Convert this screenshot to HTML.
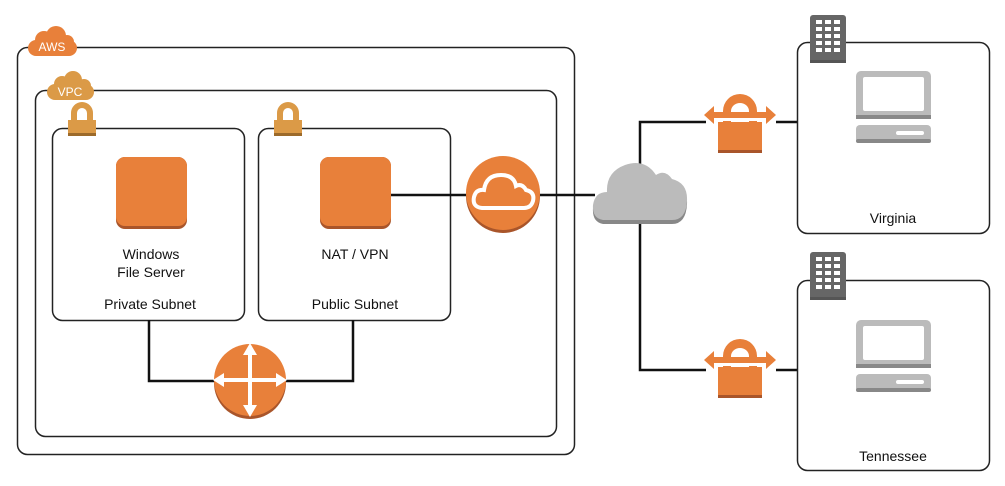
<!DOCTYPE html>
<html><head><meta charset="utf-8"><style>
html,body{margin:0;padding:0;background:#fff;}
svg{display:block;font-family:"Liberation Sans",Arial,sans-serif;}
</style></head><body>
<svg width="1005" height="486" viewBox="0 0 1005 486" xmlns="http://www.w3.org/2000/svg">
<defs>
<g id="lock">
  <path d="M-17,0 V-12 A17,17 0 0 1 17,-12 V0 H9 V-12 A9,8 0 0 0 -9,-12 V0 Z" fill="#E8803A"/>
  <rect x="-22" y="-1" width="44" height="30" fill="#E8803A"/>
  <rect x="-22" y="27" width="44" height="3" fill="#A9552A"/>
  <rect x="-30" y="-11" width="60" height="6" fill="#E8803A"/>
  <path d="M-36,-8 L-26,-17 L-26,1 Z" fill="#E8803A"/>
  <path d="M36,-8 L26,-17 L26,1 Z" fill="#E8803A"/>
  <rect x="-22" y="-5" width="44" height="3" fill="#fff"/>
</g>
<g id="bld">
  <rect x="0" y="0" width="36" height="48" rx="3" fill="#666"/>
  <rect x="0" y="45" width="36" height="3" fill="#555"/>
  <g fill="#fff">
    <rect x="6" y="5" width="6" height="4"/><rect x="15" y="5" width="6" height="4"/><rect x="24" y="5" width="6" height="4"/>
    <rect x="6" y="12" width="6" height="4"/><rect x="15" y="12" width="6" height="4"/><rect x="24" y="12" width="6" height="4"/>
    <rect x="6" y="19" width="6" height="4"/><rect x="15" y="19" width="6" height="4"/><rect x="24" y="19" width="6" height="4"/>
    <rect x="6" y="26" width="6" height="4"/><rect x="15" y="26" width="6" height="4"/><rect x="24" y="26" width="6" height="4"/>
    <rect x="6" y="33" width="6" height="4"/><rect x="15" y="33" width="6" height="4"/><rect x="24" y="33" width="6" height="4"/>
  </g>
</g>
<g id="pc">
  <rect x="0" y="0" width="75" height="48" rx="5" fill="#bbb"/>
  <rect x="0" y="44" width="75" height="4" fill="#888"/>
  <rect x="7" y="6" width="61" height="34" rx="2" fill="#fff"/>
  <rect x="0" y="54" width="75" height="18" rx="4" fill="#bbb"/>
  <rect x="0" y="68" width="75" height="4" rx="2" fill="#888"/>
  <rect x="40" y="60" width="28" height="4" rx="2" fill="#fff"/>
</g>
<g id="slock">
  <path d="M-11,2 V-7 A11,11 0 0 1 11,-7 V2 H5 V-7 A5,5 0 0 0 -5,-7 V2 Z" fill="#DB9A47"/>
  <rect x="-14" y="0" width="28" height="14" fill="#DB9A47"/>
  <rect x="-14" y="13" width="28" height="3" fill="#9C6A2A"/>
</g>
</defs>

<!-- AWS box -->
<rect x="17.5" y="47.5" width="557" height="407" rx="10" fill="none" stroke="#222" stroke-width="1.5"/>
<g fill="#E8803A">
  <rect x="28" y="40" width="49" height="16" rx="8"/>
  <circle cx="44" cy="40" r="9"/>
  <circle cx="56" cy="36" r="10"/>
  <circle cx="67" cy="42" r="7"/>
</g>
<text x="52" y="51" font-size="12" fill="#fff" text-anchor="middle">AWS</text>
<!-- VPC box -->
<rect x="35.5" y="90.5" width="521" height="346" rx="10" fill="none" stroke="#222" stroke-width="1.5"/>
<g fill="#DB9A47">
  <rect x="47" y="84" width="47" height="16" rx="8"/>
  <circle cx="62" cy="84" r="8"/>
  <circle cx="73" cy="80" r="9"/>
  <circle cx="84" cy="86" r="7"/>
</g>
<text x="70" y="96" font-size="12" fill="#fff" text-anchor="middle">VPC</text>

<!-- subnets -->
<rect x="52.5" y="128.5" width="192" height="192" rx="10" fill="none" stroke="#222" stroke-width="1.5"/>
<rect x="258.5" y="128.5" width="192" height="192" rx="10" fill="none" stroke="#222" stroke-width="1.5"/>
<use href="#slock" x="82" y="120"/>
<use href="#slock" x="288" y="120"/>

<rect x="116" y="157" width="71" height="72" rx="9" fill="#A9552A"/>
<rect x="116" y="157" width="71" height="69" rx="9" fill="#E8803A"/>
<rect x="320" y="157" width="71" height="72" rx="9" fill="#A9552A"/>
<rect x="320" y="157" width="71" height="69" rx="9" fill="#E8803A"/>

<!-- lines -->
<g stroke="#111" stroke-width="2.5" fill="none">
<polyline points="149,320 149,381 214,381"/>
<polyline points="286,381 353,381 353,320"/>
<line x1="391" y1="195" x2="468" y2="195"/>
<line x1="539" y1="195" x2="595" y2="195"/>
<polyline points="706,122 640,122 640,370 706,370"/>
<line x1="776" y1="122" x2="798" y2="122"/>
<line x1="776" y1="370" x2="798" y2="370"/>
</g>

<!-- router -->
<circle cx="250" cy="383" r="36" fill="#A9552A"/>
<circle cx="250" cy="380" r="36" fill="#E8803A"/>
<g fill="#fff">
<rect x="221" y="378" width="58" height="4"/>
<rect x="248" y="350" width="4" height="60"/>
<path d="M213,380 L224,373 L224,387 Z"/>
<path d="M287,380 L276,373 L276,387 Z"/>
<path d="M250,343 L243,355 L257,355 Z"/>
<path d="M250,417 L243,405 L257,405 Z"/>
</g>

<!-- IGW -->
<circle cx="503" cy="196" r="37" fill="#A9552A"/>
<circle cx="503" cy="193" r="37" fill="#E8803A"/>
<path d="M482,208 Q472,207 474,197 Q476,189 484,190 Q486,175 501,175 Q514,175 516,186 Q522,183 526,190 Q535,192 533,201 Q531,208 524,208 Z" fill="none" stroke="#fff" stroke-width="4"/>

<!-- internet cloud -->
<path d="M603,224 Q592,222 593,208 Q595,195 607,195 Q606,175 625,167 Q645,160 656,178 Q665,172 672,182 Q688,186 687,204 Q686,224 672,224 Z" fill="#888"/>
<path d="M603,220 Q592,218 593,205 Q595,192 607,192 Q606,172 625,165 Q645,158 656,175 Q665,169 672,179 Q688,183 687,201 Q686,220 672,220 Z" fill="#bbb"/>

<!-- VPN locks -->
<use href="#lock" x="740" y="123"/>
<use href="#lock" x="740" y="368"/>

<!-- sites -->
<rect x="797.5" y="42.5" width="192" height="191" rx="10" fill="#fff" stroke="#222" stroke-width="1.5"/>
<rect x="797.5" y="280.5" width="192" height="190" rx="10" fill="#fff" stroke="#222" stroke-width="1.5"/>
<use href="#bld" x="810" y="15"/>
<use href="#bld" x="810" y="252"/>
<use href="#pc" x="856" y="71"/>
<use href="#pc" x="856" y="320"/>

<g font-size="14" fill="#111" text-anchor="middle">
<text x="151" y="259">Windows</text>
<text x="151" y="277">File Server</text>
<text x="150" y="309">Private Subnet</text>
<text x="355" y="259">NAT / VPN</text>
<text x="355" y="309">Public Subnet</text>
<text x="893" y="223">Virginia</text>
<text x="893" y="461">Tennessee</text>
</g>
</svg>
</body></html>
